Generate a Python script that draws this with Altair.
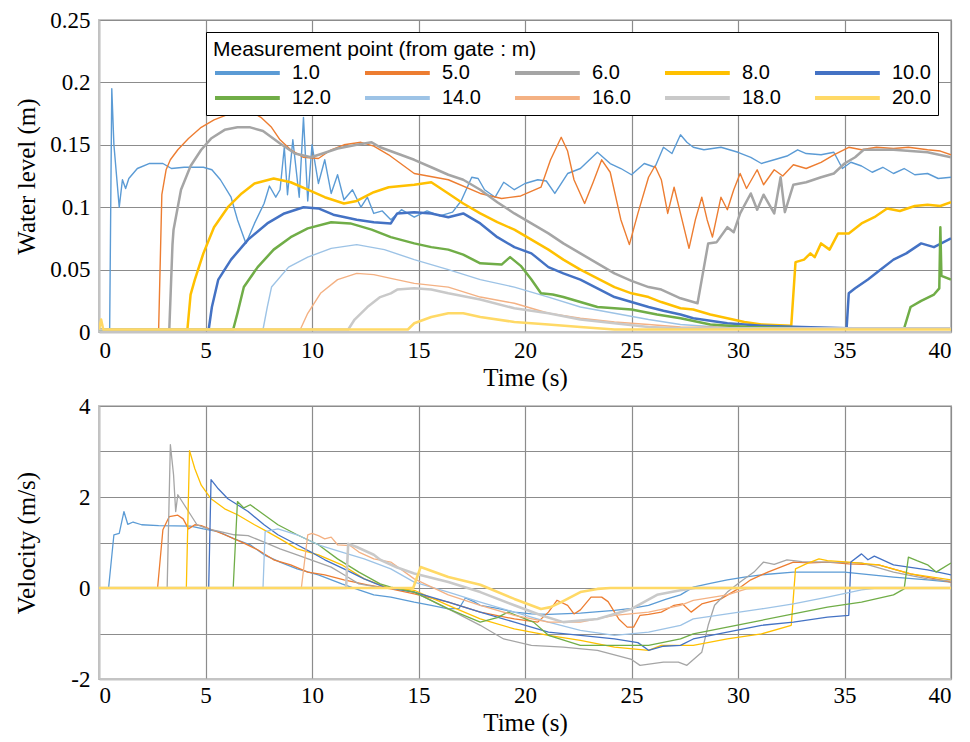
import altair as alt
import pandas as pd

SERIES = ["1.0", "5.0", "6.0", "8.0", "10.0", "12.0", "14.0", "16.0", "18.0", "20.0"]
COLORS = ["#5B9BD5", "#ED7D31", "#A5A5A5", "#FFC000", "#4472C4",
          "#70AD47", "#9DC3E6", "#F4B183", "#C9C9C9", "#FFD966"]
TOP_THIN = ["1.0", "5.0", "14.0", "16.0"]
TOP_THICK = ["6.0", "8.0", "10.0", "12.0", "18.0", "20.0"]
BOT_THIN = ["1.0", "5.0", "6.0", "8.0", "10.0", "12.0", "14.0", "16.0"]
BOT_THICK = ["18.0", "20.0"]
X_TICKS = [0, 5, 10, 15, 20, 25, 30, 35, 40]
LEVEL_TICKS = [0, 0.05, 0.1, 0.15, 0.2, 0.25]
VEL_TICKS = [-2, -1, 0, 1, 2, 3, 4]

# ---------------- water level (m) : (time s, level m) ----------------
lvl_1 = [(0, 0.002), (0.5, 0.002), (0.6, 0.195), (0.7, 0.15), (0.95, 0.100), (1.1, 0.122),
         (1.25, 0.115), (1.4, 0.123), (1.8, 0.131), (2.35, 0.135), (3.0, 0.135), (3.4, 0.131),
         (4.0, 0.132), (4.9, 0.132), (5.3, 0.130), (5.7, 0.122), (6.2, 0.108), (6.5, 0.090),
         (6.9, 0.071), (7.3, 0.087), (7.75, 0.103), (8.0, 0.117), (8.3, 0.108), (8.5, 0.114),
         (8.7, 0.148), (8.85, 0.110), (9.1, 0.154), (9.4, 0.108), (9.6, 0.172), (9.8, 0.105),
         (10.0, 0.150), (10.3, 0.119), (10.6, 0.138), (10.9, 0.111), (11.2, 0.126), (11.5, 0.106),
         (11.9, 0.114), (12.3, 0.100), (12.6, 0.108), (12.9, 0.095), (13.3, 0.097), (13.7, 0.090),
         (14.2, 0.098), (14.8, 0.092), (15.4, 0.097), (16.0, 0.093), (16.6, 0.096), (17.0, 0.105),
         (17.5, 0.124), (17.8, 0.123), (18.1, 0.114), (18.6, 0.108), (19.0, 0.120), (19.5, 0.114),
         (20.0, 0.119), (20.6, 0.122), (21.0, 0.121), (21.4, 0.111), (22.0, 0.127), (22.6, 0.131),
         (23.4, 0.144), (24.0, 0.135), (24.5, 0.131), (25.0, 0.126), (25.6, 0.135), (26.1, 0.132),
         (26.5, 0.148), (26.9, 0.143), (27.3, 0.158), (27.6, 0.152), (27.9, 0.148), (28.4, 0.146),
         (29.2, 0.148), (30.0, 0.144), (30.6, 0.140), (31.1, 0.135), (31.7, 0.138), (32.3, 0.141),
         (32.8, 0.146), (33.2, 0.143), (33.9, 0.142), (34.5, 0.144), (34.9, 0.131), (35.3, 0.136),
         (35.8, 0.133), (36.3, 0.128), (36.8, 0.132), (37.3, 0.127), (37.8, 0.131), (38.3, 0.126),
         (38.9, 0.127), (39.4, 0.123), (40, 0.124)]
lvl_5 = [(0, 0.002), (2.8, 0.002), (2.95, 0.110), (3.15, 0.130), (3.35, 0.138), (3.7, 0.146),
         (4.2, 0.155), (4.8, 0.164), (5.4, 0.170), (6.0, 0.174), (6.7, 0.177), (7.1, 0.177),
         (7.6, 0.172), (8.1, 0.164), (8.5, 0.154), (9.0, 0.146), (9.6, 0.140), (10.3, 0.139),
         (10.9, 0.146), (11.5, 0.150), (12.3, 0.152), (12.9, 0.149), (13.6, 0.142), (14.0, 0.137),
         (14.8, 0.127), (16.4, 0.122), (17.9, 0.111), (18.9, 0.107), (19.8, 0.109), (20.75, 0.116),
         (21.2, 0.138), (21.7, 0.156), (22.0, 0.145), (22.3, 0.122), (22.8, 0.103), (23.2, 0.120),
         (23.6, 0.138), (24.0, 0.128), (24.5, 0.090), (24.9, 0.070), (25.3, 0.095), (25.8, 0.124),
         (26.1, 0.133), (26.4, 0.122), (26.7, 0.095), (27.0, 0.116), (27.3, 0.095), (27.7, 0.067),
         (28.0, 0.090), (28.3, 0.108), (28.55, 0.090), (28.8, 0.076), (29.2, 0.108), (29.5, 0.098),
         (29.8, 0.114), (30.1, 0.127), (30.4, 0.115), (30.9, 0.130), (31.2, 0.118), (31.7, 0.130),
         (32.1, 0.125), (32.6, 0.134), (33.2, 0.131), (33.9, 0.136), (34.5, 0.142), (35.2, 0.148),
         (35.8, 0.146), (36.5, 0.148), (37.3, 0.147), (38.0, 0.148), (38.9, 0.146), (39.5, 0.145),
         (40, 0.142)]
lvl_6 = [(0, 0.002), (3.3, 0.002), (3.45, 0.070), (3.5, 0.082), (3.85, 0.114), (4.3, 0.133),
         (4.8, 0.146), (5.26, 0.155), (5.9, 0.162), (6.5, 0.164), (7.1, 0.164), (7.7, 0.161),
         (8.5, 0.151), (9.2, 0.143), (9.95, 0.140), (10.5, 0.143), (11.2, 0.147), (12.1, 0.150),
         (12.8, 0.152), (13.2, 0.148), (14.0, 0.143), (14.8, 0.138), (15.6, 0.132), (16.4, 0.126),
         (17.1, 0.122), (17.9, 0.114), (18.7, 0.104), (19.5, 0.095), (20.3, 0.087), (21.1, 0.079),
         (21.8, 0.071), (22.6, 0.063), (23.4, 0.055), (24.2, 0.047), (25.0, 0.041), (25.8, 0.036),
         (26.4, 0.034), (27.3, 0.027), (28.1, 0.023), (28.35, 0.047), (28.6, 0.071), (29.0, 0.072),
         (29.5, 0.084), (29.8, 0.080), (30.1, 0.095), (30.6, 0.111), (30.9, 0.098), (31.2, 0.110),
         (31.7, 0.095), (32.0, 0.124), (32.2, 0.096), (32.6, 0.118), (33.2, 0.120), (33.9, 0.124),
         (34.5, 0.127), (35.0, 0.135), (35.5, 0.140), (35.9, 0.146), (37.3, 0.146), (38.9, 0.144),
         (40, 0.140)]
lvl_8 = [(0, 0.002), (4.15, 0.002), (4.3, 0.030), (4.5, 0.042), (4.9, 0.063), (5.4, 0.084),
         (6.05, 0.100), (6.7, 0.111), (7.3, 0.119), (8.2, 0.123), (9.0, 0.120), (9.8, 0.114),
         (10.6, 0.108), (11.5, 0.103), (12.1, 0.105), (12.9, 0.112), (13.6, 0.116), (14.8, 0.118),
         (15.6, 0.120), (16.4, 0.111), (17.1, 0.103), (17.9, 0.095), (18.7, 0.088), (19.5, 0.082),
         (20.3, 0.074), (21.1, 0.066), (21.8, 0.058), (22.6, 0.050), (23.4, 0.043), (24.2, 0.036),
         (25.0, 0.031), (25.8, 0.028), (26.4, 0.024), (27.3, 0.019), (27.9, 0.018), (28.7, 0.014),
         (29.5, 0.011), (30.3, 0.008), (31.1, 0.006), (32.5, 0.005), (32.7, 0.056), (33.1, 0.058),
         (33.4, 0.063), (33.6, 0.060), (33.9, 0.071), (34.3, 0.066), (34.7, 0.079), (35.2, 0.079),
         (35.8, 0.087), (36.4, 0.092), (37.0, 0.099), (37.6, 0.097), (38.3, 0.101), (38.9, 0.102),
         (39.5, 0.101), (40, 0.104)]
lvl_10 = [(0, 0.002), (5.15, 0.002), (5.3, 0.020), (5.6, 0.042), (6.2, 0.058), (7.0, 0.074),
          (7.9, 0.087), (8.7, 0.095), (9.6, 0.100), (10.3, 0.099), (11.0, 0.094), (12.1, 0.090),
          (12.9, 0.088), (13.7, 0.087), (14.0, 0.095), (14.8, 0.096), (15.6, 0.095), (16.4, 0.092),
          (17.1, 0.095), (17.9, 0.087), (18.7, 0.076), (19.5, 0.068), (20.3, 0.063), (21.1, 0.052),
          (21.8, 0.047), (22.6, 0.042), (23.4, 0.035), (24.2, 0.028), (25.0, 0.024), (25.8, 0.020),
          (26.5, 0.017), (27.3, 0.014), (27.9, 0.011), (29.5, 0.007), (31.1, 0.005), (33.0, 0.004),
          (35.1, 0.003), (35.2, 0.031), (35.5, 0.035), (36.1, 0.042), (36.7, 0.050), (37.3, 0.058),
          (37.9, 0.063), (38.6, 0.071), (39.2, 0.068), (40, 0.075)]
lvl_12 = [(0, 0.002), (6.3, 0.002), (6.5, 0.015), (6.8, 0.036), (7.45, 0.052), (8.2, 0.066),
          (9.0, 0.076), (9.8, 0.083), (10.9, 0.088), (11.8, 0.087), (12.8, 0.082), (13.7, 0.076),
          (14.8, 0.071), (15.6, 0.068), (16.4, 0.066), (17.1, 0.062), (17.9, 0.055), (18.9, 0.054),
          (19.3, 0.060), (19.8, 0.053), (20.3, 0.042), (20.75, 0.031), (21.3, 0.030), (21.8, 0.028),
          (22.6, 0.024), (23.4, 0.020), (25.0, 0.018), (26.2, 0.014), (27.3, 0.011), (28.7, 0.006),
          (30.5, 0.004), (33.0, 0.003), (37.8, 0.003), (38.1, 0.020), (38.6, 0.025), (39.2, 0.030),
          (39.45, 0.035), (39.5, 0.084), (39.55, 0.045), (40, 0.042)]
lvl_14 = [(0, 0.002), (7.7, 0.002), (7.9, 0.020), (8.1, 0.036), (8.9, 0.052), (9.8, 0.060),
          (10.9, 0.067), (12.1, 0.070), (13.4, 0.066), (14.8, 0.058), (16.4, 0.050), (17.9, 0.042),
          (19.5, 0.036), (21.1, 0.028), (22.6, 0.020), (24.2, 0.015), (25.8, 0.010), (27.3, 0.006),
          (29.0, 0.004), (40, 0.003)]
lvl_16 = [(0, 0.002), (9.45, 0.002), (9.8, 0.015), (10.4, 0.031), (11.2, 0.042), (12.1, 0.047),
          (12.9, 0.046), (13.7, 0.043), (14.8, 0.039), (16.4, 0.036), (17.9, 0.028), (19.5, 0.023),
          (21.1, 0.015), (22.6, 0.011), (24.2, 0.008), (25.8, 0.006), (27.3, 0.004), (40, 0.003)]
lvl_18 = [(0, 0.002), (11.7, 0.002), (12.0, 0.010), (12.6, 0.020), (13.2, 0.028), (13.7, 0.031),
          (14.0, 0.034), (14.8, 0.035), (15.6, 0.034), (16.4, 0.031), (17.9, 0.026), (19.5, 0.019),
          (21.1, 0.015), (22.6, 0.010), (24.2, 0.007), (25.8, 0.004), (27.3, 0.003), (40, 0.003)]
lvl_20 = [(0, 0.002), (0.1, 0.010), (0.2, 0.002), (14.5, 0.002), (14.8, 0.007), (15.6, 0.012),
          (16.4, 0.015), (17.1, 0.015), (17.9, 0.012), (19.5, 0.008), (21.1, 0.006), (22.6, 0.004),
          (24.2, 0.002), (40, 0.002)]

# ---------------- velocity (m/s) : (time s, velocity m/s) ----------------
vel_1 = [(0, 0), (0.45, 0), (0.7, 1.17), (0.95, 1.2), (1.17, 1.68), (1.35, 1.4), (1.6, 1.45),
         (2.0, 1.39), (2.8, 1.37), (4.3, 1.36), (4.9, 1.30), (5.6, 1.24), (6.35, 1.08), (7.1, 0.95),
         (7.75, 0.73), (8.5, 0.57), (9.3, 0.42), (10.3, 0.29), (11.4, 0.09), (12.2, -0.04),
         (12.9, -0.15), (13.7, -0.2), (14.8, -0.31), (15.6, -0.38), (16.4, -0.46), (16.9, -0.45),
         (17.2, -0.22), (17.6, -0.3), (17.9, -0.38), (18.7, -0.45), (19.5, -0.53), (20.3, -0.57),
         (21.1, -0.58), (22.6, -0.55), (24.2, -0.49), (25.0, -0.45), (25.8, -0.38), (26.6, -0.25),
         (27.3, -0.15), (27.9, 0.02), (28.7, 0.1), (29.5, 0.18), (30.3, 0.24), (31.1, 0.29),
         (32.6, 0.35), (34.2, 0.35), (35.0, 0.35), (35.8, 0.31), (37.3, 0.24), (38.9, 0.18),
         (40, 0.13)]
vel_5 = [(0, 0), (2.75, 0), (3.0, 1.28), (3.3, 1.57), (3.7, 1.6), (3.95, 1.52), (4.2, 1.30),
         (4.5, 1.39), (4.8, 1.37), (5.3, 1.28), (5.9, 1.17), (6.7, 1.01), (7.45, 0.84), (8.2, 0.62),
         (9.0, 0.51), (9.8, 0.35), (10.6, 0.29), (11.5, 0.18), (12.6, 0.07), (13.7, -0.02),
         (14.8, -0.13), (16.4, -0.31), (17.9, -0.53), (19.5, -0.68), (20.6, -0.75), (21.1, -0.53),
         (21.5, -0.27), (22.0, -0.38), (22.3, -0.57), (22.6, -0.48), (23.1, -0.2), (23.6, -0.2),
         (23.9, -0.3), (24.4, -0.68), (24.8, -0.86), (25.1, -0.86), (25.4, -0.6), (25.8, -0.58),
         (26.4, -0.53), (27.0, -0.38), (27.4, -0.35), (27.8, -0.53), (28.3, -0.35), (29.2, -0.24),
         (30.0, -0.02), (30.6, 0.18), (31.4, 0.35), (32.6, 0.57), (33.4, 0.55), (34.2, 0.57),
         (35.2, 0.53), (36.6, 0.51), (38.1, 0.31), (40, 0.13)]
vel_6 = [(0, 0), (3.2, 0), (3.35, 3.15), (3.5, 2.49), (3.6, 1.68), (3.7, 2.05), (4.0, 1.83),
         (4.3, 1.61), (4.6, 1.39), (5.1, 1.30), (5.7, 1.24), (6.35, 1.17), (7.0, 1.15), (7.75, 1.01),
         (8.5, 0.86), (9.3, 0.73), (9.95, 0.62), (10.9, 0.46), (11.5, 0.29), (12.2, 0.09),
         (13.1, 0.02), (13.7, 0.0), (14.8, -0.09), (16.4, -0.46), (17.9, -0.82), (19.0, -1.12),
         (20.3, -1.26), (21.8, -1.30), (23.4, -1.37), (25.0, -1.57), (25.4, -1.70), (26.5, -1.63),
         (27.2, -1.63), (27.6, -1.70), (28.3, -1.41), (28.6, -0.82), (28.9, -0.38), (29.5, -0.09),
         (30.1, 0.13), (30.75, 0.35), (31.2, 0.57), (31.7, 0.52), (32.3, 0.62), (33.0, 0.58),
         (34.2, 0.57), (35.8, 0.55), (37.3, 0.35), (38.9, 0.2), (40, 0.15)]
vel_8 = [(0, 0), (4.1, 0), (4.25, 3.02), (4.5, 2.62), (4.8, 2.26), (5.26, 1.96), (5.9, 1.74),
         (6.5, 1.61), (7.3, 1.39), (7.9, 1.24), (8.5, 1.08), (9.3, 0.86), (10.3, 0.73), (11.4, 0.51),
         (12.45, 0.2), (13.5, 0.02), (14.8, -0.05), (16.4, -0.38), (17.9, -0.68), (19.5, -0.9),
         (21.1, -1.04), (22.6, -1.15), (24.2, -1.30), (25.8, -1.37), (26.4, -1.26), (27.9, -1.26),
         (29.5, -1.12), (31.1, -1.01), (32.5, -0.82), (32.7, 0.42), (33.2, 0.53), (33.8, 0.64),
         (34.2, 0.6), (35.2, 0.57), (36.6, 0.51), (38.1, 0.31), (40, 0.18)]
vel_10 = [(0, 0), (5.15, 0), (5.26, 2.38), (5.6, 2.18), (6.05, 1.96), (6.5, 1.83), (7.0, 1.68),
          (7.75, 1.39), (8.4, 1.17), (9.3, 0.95), (9.95, 0.79), (10.6, 0.62), (11.5, 0.42),
          (12.45, 0.2), (13.4, 0.02), (14.8, -0.09), (16.4, -0.31), (17.9, -0.53), (19.5, -0.75),
          (21.1, -0.97), (22.6, -1.04), (24.2, -1.12), (25.3, -1.2), (25.8, -1.37), (26.5, -1.28),
          (27.3, -1.26), (27.9, -1.12), (29.5, -0.97), (31.1, -0.82), (32.6, -0.75), (34.2, -0.64),
          (35.2, -0.6), (35.3, 0.57), (35.8, 0.75), (36.1, 0.62), (36.4, 0.7), (37.3, 0.51),
          (38.9, 0.4), (40, 0.29)]
vel_12 = [(0, 0), (6.3, 0), (6.5, 1.9), (6.8, 1.76), (7.1, 1.83), (7.75, 1.61), (8.4, 1.39),
          (9.3, 1.17), (10.3, 0.95), (11.2, 0.64), (12.2, 0.35), (13.2, 0.09), (13.7, 0.02),
          (14.8, -0.09), (16.4, -0.46), (17.9, -0.75), (18.7, -0.65), (19.2, -0.53), (20.4, -0.75),
          (21.1, -1.04), (22.6, -1.26), (24.2, -1.26), (25.8, -1.26), (27.3, -1.12), (27.9, -1.01),
          (29.5, -0.86), (31.1, -0.71), (32.6, -0.57), (34.2, -0.42), (35.8, -0.31), (37.3, -0.15),
          (37.8, -0.02), (38.0, 0.68), (38.4, 0.6), (38.9, 0.51), (39.3, 0.35), (40, 0.55)]
vel_14 = [(0, 0), (7.7, 0), (7.8, 1.24), (8.4, 1.30), (9.3, 1.17), (10.3, 0.95), (11.4, 0.79),
          (12.45, 0.64), (13.7, 0.42), (14.8, 0.13), (16.4, -0.09), (17.9, -0.31), (19.5, -0.53),
          (21.1, -0.75), (22.6, -0.93), (24.2, -1.04), (25.8, -0.97), (27.3, -0.82), (27.9, -0.68),
          (29.5, -0.57), (31.1, -0.46), (32.6, -0.35), (34.2, -0.2), (35.8, -0.04), (36.5, 0),
          (40, 0)]
vel_16 = [(0, 0), (9.5, 0), (9.8, 1.17), (10.0, 1.2), (10.3, 1.15), (10.6, 1.08), (10.9, 1.12),
          (11.2, 0.95), (11.8, 0.93), (12.2, 0.79), (12.9, 0.64), (13.7, 0.57), (14.8, 0.2),
          (16.4, -0.15), (17.9, -0.38), (19.5, -0.6), (21.1, -0.75), (22.6, -0.75), (24.2, -0.6),
          (25.8, -0.53), (27.3, -0.38), (27.9, -0.27), (29.5, -0.15), (30.4, -0.02), (31.0, 0),
          (40, 0)]
vel_18 = [(0, 0), (11.6, 0), (11.7, 0.97), (12.1, 0.9), (12.9, 0.73), (13.2, 0.62), (14.0, 0.45),
          (14.8, 0.32), (16.4, 0.13), (17.9, -0.09), (19.5, -0.38), (20.75, -0.6), (21.8, -0.75),
          (23.4, -0.68), (25.0, -0.46), (26.2, -0.15), (27.3, -0.05), (28.0, 0), (40, 0)]
vel_20 = [(0, 0), (14.75, 0), (15.1, 0.46), (16.4, 0.24), (17.9, 0.07), (19.5, -0.24),
          (20.75, -0.46), (21.2, -0.42), (21.7, -0.31), (22.6, -0.09), (23.4, -0.02), (24.0, 0),
          (40, 0)]

LEVELS = [lvl_1, lvl_5, lvl_6, lvl_8, lvl_10, lvl_12, lvl_14, lvl_16, lvl_18, lvl_20]
VELS = [vel_1, vel_5, vel_6, vel_8, vel_10, vel_12, vel_14, vel_16, vel_18, vel_20]


def long_table(groups):
    rows = []
    for name, pts in zip(SERIES, groups):
        for t, v in pts:
            rows.append({"series": name, "t": t, "value": v})
    return pd.DataFrame(rows)


level_df = long_table(LEVELS)
vel_df = long_table(VELS)

SERIF = "Liberation Serif"
SANS = "Liberation Sans"

y_axis_common = dict(titleX=-73, titleBaseline="middle", titleAlign="center",
                     labelPadding=9, minExtent=90, maxExtent=90)

legend = alt.Legend(
    title="Measurement point (from gate : m)",
    orient="none", legendX=107, legendY=12, direction="horizontal",
    columns=5, gridAlign="all",
    symbolType="M-1,0H6.2", symbolSize=324, symbolStrokeWidth=4,
    labelOffset=57, columnPadding=26, rowPadding=4,
    labelFont=SANS, labelFontSize=20, labelColor="black", labelLimit=0,
    titleFont=SANS, titleFontSize=21, titleFontWeight="normal", titleColor="black",
    titleLimit=0, titlePadding=2, padding=7, strokeColor="black", fillColor="white",
    symbolLimit=0,
)

color_scale = alt.Scale(domain=SERIES, range=COLORS)


def panel(df, y_field_axis, y_scale, x_label_pad, groups, widths, leg):
    layers = []
    for grp, w in zip(groups, widths):
        layers.append(
            alt.Chart(df).transform_filter(
                alt.FieldOneOfPredicate(field="series", oneOf=grp)
            ).mark_line(clip=True, strokeJoin="round", strokeWidth=w).encode(
                x=alt.X("t:Q", scale=alt.Scale(domain=[0, 40], nice=False, zero=False),
                        axis=alt.Axis(values=X_TICKS, format="d", title="Time (s)",
                                      labelPadding=x_label_pad, titlePadding=3)),
                y=alt.Y("value:Q", scale=y_scale, axis=y_field_axis),
                color=alt.Color("series:N", sort=SERIES, scale=color_scale, legend=leg),
            )
        )
    return alt.layer(*layers)


top = panel(
    level_df,
    alt.Axis(values=LEVEL_TICKS, format="~g", title="Water level (m)", **y_axis_common),
    alt.Scale(domain=[0, 0.25], nice=False),
    7, [TOP_THIN, TOP_THICK], [1.4, 2.5], legend,
).properties(width=852, height=312)

bottom = panel(
    vel_df,
    alt.Axis(values=VEL_TICKS, title="Velocity (m/s)",
             labelExpr="datum.value % 2 == 0 ? toString(datum.value) : ''", **y_axis_common),
    alt.Scale(domain=[-2, 4], nice=False),
    5, [BOT_THIN, BOT_THICK], [1.3, 2.6], None,
).properties(width=852, height=273)

chart = alt.vconcat(top, bottom, spacing=3).resolve_scale(
    color="independent"
).properties(
    padding={"left": 0, "top": 0, "right": 5, "bottom": 2},
    background="white",
).configure_axis(
    labelFont=SERIF, labelFontSize=23, labelColor="black",
    titleFont=SERIF, titleFontSize=25, titleFontWeight="normal", titleColor="black",
    ticks=False, domainColor="#C4C4C4", domainWidth=2,
    gridColor="#8C8C8C", gridWidth=1.2,
).configure_view(stroke="#C4C4C4", strokeWidth=2)

chart.save("out.html", embed_options={"renderer": "svg", "actions": False})
